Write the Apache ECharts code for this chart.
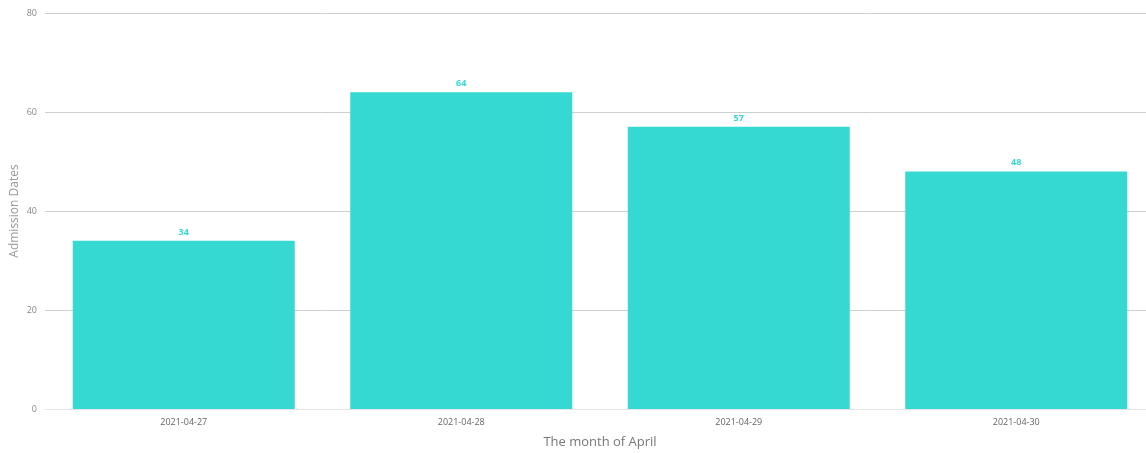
<!DOCTYPE html>
<html>
<head>
<meta charset="utf-8">
<script src="https://cdn.jsdelivr.net/npm/echarts@6/dist/echarts.min.js"></script>
<style>
  html, body { margin: 0; padding: 0; background: #fff; }
  #chart { width: 1146px; height: 453px; }
</style>
</head>
<body>
<div id="chart"></div>
<script>
// Daily admissions, late April 2021
const categories = ['2021-04-27', '2021-04-28', '2021-04-29', '2021-04-30'];
const admissions = [34, 64, 57, 48];
const yTicks = { min: 0, max: 80, interval: 20 };

const font = '"Open Sans", "Noto Sans", sans-serif';
const chart = echarts.init(document.getElementById('chart'));

chart.setOption({
  animation: false,
  textStyle: { fontFamily: font },
  grid: { left: 45, top: 13, width: 1110, height: 396, containLabel: false, outerBoundsMode: 'none' },
  xAxis: {
    type: 'category',
    data: categories,
    name: 'The month of April',
    nameLocation: 'middle',
    nameGap: 27,
    nameTextStyle: { color: '#777', fontSize: 13, fontFamily: font },
    axisLine: { lineStyle: { color: '#e6e6e6' } },
    axisTick: { show: false },
    axisLabel: { color: '#666', fontSize: 9, margin: 9, fontFamily: font }
  },
  yAxis: {
    type: 'value',
    min: yTicks.min,
    max: yTicks.max,
    interval: yTicks.interval,
    name: 'Admission Dates',
    nameLocation: 'middle',
    nameGap: 24,
    nameMoveOverlap: false,
    nameTextStyle: { color: '#999', fontSize: 12, fontFamily: font },
    axisLine: { show: false },
    axisTick: { show: false },
    axisLabel: { color: '#888', fontSize: 9, margin: 8, fontFamily: font },
    splitLine: { lineStyle: { color: '#cfcfcf' } }
  },
  series: [{
    type: 'bar',
    data: admissions,
    barWidth: '80%',
    itemStyle: { color: '#35d9d2' },
    label: {
      show: true,
      position: 'top',
      distance: 4,
      color: '#35d9d2',
      fontSize: 9,
      fontWeight: 'bold',
      fontFamily: font
    }
  }]
});
</script>
</body>
</html>
